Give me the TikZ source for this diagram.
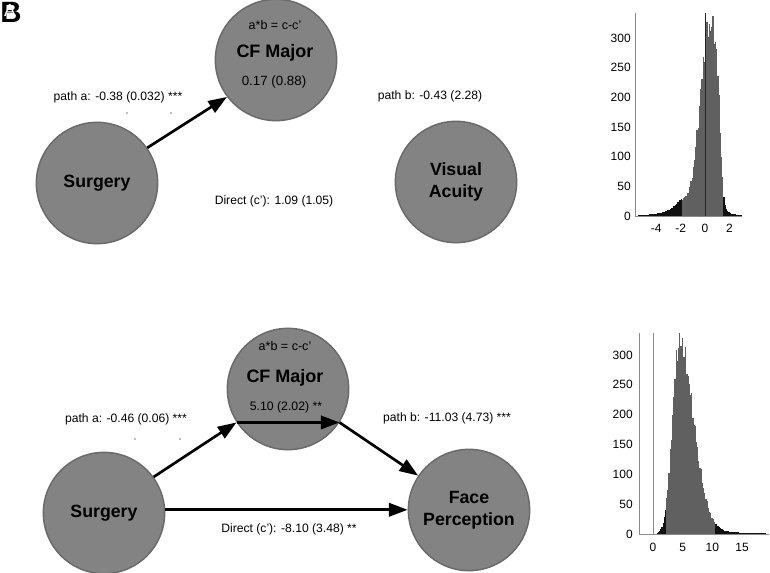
\documentclass[tikz,border=0pt]{standalone}
\usepackage{fontspec}
\setmainfont{Liberation Sans}
\usetikzlibrary{arrows.meta}
\definecolor{circfill}{HTML}{838383}
\definecolor{circdraw}{HTML}{6A6A6A}
\definecolor{barcore}{HTML}{606060}
\definecolor{bartail}{HTML}{111111}
\definecolor{axisc}{HTML}{8A8A8A}
\definecolor{dotc}{HTML}{777777}
\newcommand\hbarsTop[3]{%
  \foreach \i in {#1,...,#2}{%
    \pgfmathsetmacro\xc{(\i+0.5)*0.1}%
    \pgfmathsetmacro\dd{\xc-0.35}%
    \pgfmathsetmacro\dsq{(\dd)*(\dd)}%
    \pgfmathsetmacro\hh{ifthenelse(\dd<0, 315*exp(max(-15,-\dsq/1.114)), 315*exp(max(-15,-(\dsq/0.9025)*(\dsq/0.9025))) + 8/(1+(\xc-1.6)*(\xc-1.6)/0.16)) + 25/(1+(\xc+1.9)*(\xc+1.9)/0.81)}%
    \pgfmathsetmacro\hn{max(0,\hh*(1+0.05*sin(\i*137.5)+0.03*sin(\i*83.1)))}%
    \fill[#3] ({705+\i*1.22},216) rectangle ({705+(\i+1)*1.22+0.15},{216-\hn*0.5933});
  }}
\newcommand\hbarsBot[3]{%
  \foreach \i in {#1,...,#2}{%
    \pgfmathsetmacro\xc{(\i+0.5)*0.2}%
    \pgfmathsetmacro\dd{\xc-4.4}%
    \pgfmathsetmacro\dsq{(\dd)*(\dd)}%
    \pgfmathsetmacro\hh{ifthenelse(\dd<0, 318*exp(max(-15,-\dsq/2.58)), 318*exp(max(-15,-\dsq/10.58)) + 14/(1+(\xc-8)*(\xc-8)/9))}%
    \pgfmathsetmacro\hn{max(0,\hh*(1+0.05*sin(\i*137.5)+0.03*sin(\i*83.1)))}%
    \fill[#3] ({653+\i*1.188},534) rectangle ({653+(\i+1)*1.188+0.15},{534-\hn*0.5967});
  }}
\begin{document}
\begin{tikzpicture}[x=0.75pt,y=-0.75pt,
  circ/.style={circle, fill=circfill, draw=circdraw, line width=1.1pt,
    minimum size=91pt, inner sep=0pt, align=center,
    font=\fontsize{13.3}{16.5}\selectfont\bfseries},
  lbl/.style={inner sep=0pt, font=\fontsize{9.1}{11}\selectfont},
  abl/.style={inner sep=0pt, font=\fontsize{9.4}{11}\selectfont},
  numl/.style={inner sep=0pt, font=\fontsize{10}{12}\selectfont},
  numlb/.style={inner sep=0pt, font=\fontsize{9.2}{11}\selectfont},
  boldl/.style={inner sep=0pt, font=\fontsize{13.5}{16}\selectfont\bfseries},
  tick/.style={inner sep=0pt, font=\fontsize{9}{11}\selectfont},
  panel/.style={inner sep=0pt, font=\fontsize{22}{24}\selectfont\bfseries},
  panelw/.style={inner sep=0pt, text=white, font=\fontsize{13}{15}\selectfont},
  arr/.style={line width=2pt, -{Triangle[length=14pt,width=10pt]}},
  axis/.style={draw=axisc, line width=0.7pt},
  dot/.style={fill=dotc}]
\useasboundingbox (0,0) rectangle (770,573);

% panel letters (overprinted)
\node[panel] (pb) at (11,12) {B};
\node[panelw] (pa) at (10,11) {A};

% ---------- top panel ----------
\node[circ] (cfA) at (276,60) {};
\node[circ] (surgA) at (97,183) {Surgery};
\node[circ] (visA) at (456,182) {Visual\\Acuity};
\node[abl] (abA) at (275,25) {a*b = c-c’};
\node[boldl] (cfAl) at (275,53) {CF Major};
\node[numl] (cfAn) at (274,82) {0.17 (0.88)};
\node[lbl] (paA) at (118,97) {path a: -0.38 (0.032) ***};
\node[lbl] (pbA) at (430,96) {path b: -0.43 (2.28)};
\node[lbl] (dcA) at (274,201) {Direct (c’): 1.09 (1.05)};
\draw[arr] (surgA.35) -- (cfA.217);
\fill[dot] (127,113) circle[radius=0.9];
\fill[dot] (171,113) circle[radius=0.9];

% ---------- bottom panel ----------
\node[circ] (cfB) at (288,389) {};
\node[circ] (surgB) at (104,513) {Surgery};
\node[circ] (faceB) at (469,510) {Face\\Perception};
\node[abl] (abB) at (285,346) {a*b = c-c’};
\node[boldl] (cfBl) at (285,378) {CF Major};
\node[numlb] (cfBn) at (286,407) {5.10 (2.02) **};
\node[lbl] (paB) at (126,419) {path a: -0.46 (0.06) ***};
\node[lbl] (pbB) at (447,418) {path b: -11.03 (4.73) ***};
\node[lbl] (dcB) at (289,529) {Direct (c’): -8.10 (3.48) **};
\draw[arr] (surgB.36) -- (cfB.213);
\draw[arr] (cfB.213) -- (cfB.-33);
\draw[arr] (cfB.-33) -- (faceB);
\draw[arr] (surgB.3) -- (surgB.3 -| faceB.west);
\fill[dot] (135,439) circle[radius=0.9];
\fill[dot] (180,439) circle[radius=0.9];

% ---------- top histogram ----------
\hbarsTop{-55}{-20}{bartail}
\hbarsTop{-19}{14}{barcore}
\hbarsTop{15}{29}{bartail}
\draw[axis] (635,13) -- (635,216) -- (742,216);
\draw[line width=0.7pt, black!85] (705,13) -- (705,216);
\foreach \v in {0,50,...,300}{
  \node[tick, anchor=east] (tyA\v) at (631,{216-\v*0.5933}) {\v};
}
\foreach \v/\t in {-4/m4,-2/m2,0/z,2/p2}{
  \node[tick] (txA\t) at ({705+\v*12.2},228) {\v};
}

% ---------- bottom histogram ----------
\hbarsBot{-5}{10}{bartail}
\hbarsBot{11}{51}{barcore}
\hbarsBot{52}{94}{bartail}
\draw[axis] (639,333) -- (639,534) -- (769,534);
\draw[axis] (653,333) -- (653,534);
\foreach \v in {0,50,...,300}{
  \node[tick, anchor=east] (tyB\v) at (633,{534-\v*0.5967}) {\v};
}
\foreach \v in {0,5,10,15}{
  \node[tick] (txB\v) at ({653+\v*5.94},547) {\v};
}
\end{tikzpicture}
\end{document}
